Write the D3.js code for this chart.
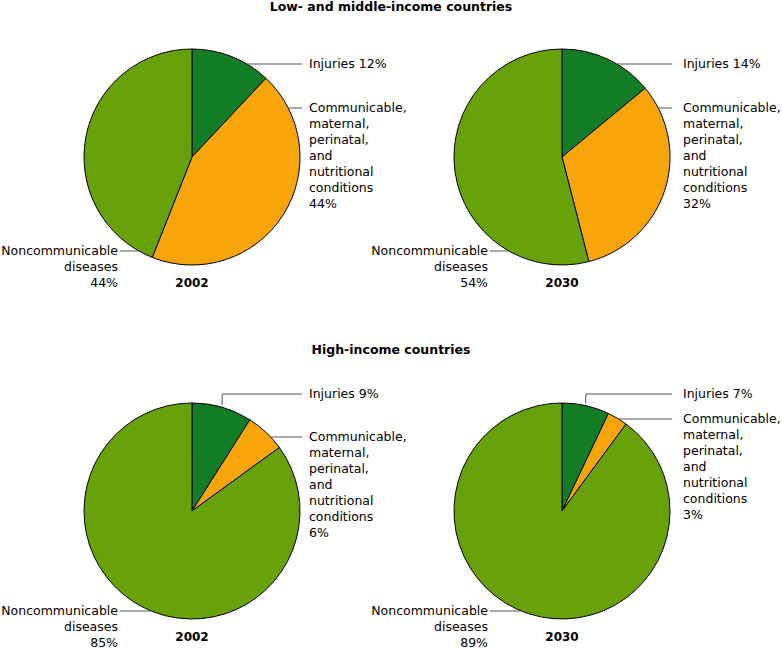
<!DOCTYPE html>
<html>
<head>
  <meta charset="utf-8" />
  <title>Burden of disease 2002 / 2030</title>
  <style>
    body { margin: 0; background: #fff; }
    text { font-family: "DejaVu Sans", Verdana, sans-serif; fill: #000; }
  </style>
</head>
<body>
  <svg id="chart" width="782" height="649"></svg>

  <script src="https://cdn.jsdelivr.net/npm/d3@7"></script>
  <script>

    // data
    var groups = ["Low- and middle-income countries", "High-income countries"]
    var years = ["2002", "2030"]
    var causes = ["Injuries", "Communicable", "Noncommunicable"]
    var lowMid2002 = [12, 44, 44]
    var lowMid2030 = [14, 32, 54]
    var high2002 = [9, 6, 85]
    var high2030 = [7, 3, 89]

    var injuryText = ["Injuries"]
    var commText = ["Communicable,", "maternal,", "perinatal,", "and", "nutritional", "conditions"]
    var ncdText = ["Noncommunicable", "diseases"]

    var colors = ["#137d26", "#f8a50c", "#68a20b"]

    // layout of the four pies
    var pies = [
      { values: lowMid2002, year: years[0], cx: 192, cy: 157, injY: 64, commY: 108, txt: 117, ncdY: 94 },
      { values: lowMid2030, year: years[1], cx: 562, cy: 157, injY: 64, commY: 108, txt: 121, ncdY: 94 },
      { values: high2002, year: years[0], cx: 192, cy: 511, injY: 394, commY: 437, txt: 117, ncdY: 100 },
      { values: high2030, year: years[1], cx: 562, cy: 511, injY: 394, commY: 419, txt: 121, ncdY: 100 }
    ]
    var titleY = [7, 350]

    var r = 108
    var lineH = 15.9
    var svg = d3.select('#chart')

    var color = d3.scaleOrdinal().domain(causes).range(colors)
    var pie = d3.pie().sort(null).value(function (d) { return d.v })
    var arc = d3.arc().innerRadius(0).outerRadius(r)

    svg.selectAll('text.title')
      .data(groups)
      .enter()
      .append('text')
      .attr('class', 'title')
      .attr('x', 391)
      .attr('y', function (d, i) { return titleY[i] })
      .attr('dy', '0.35em')
      .attr('text-anchor', 'middle')
      .style('font-weight', 'bold')
      .style('font-size', '12.5px')
      .text(function (d) { return d })

    // x on the arc at a given y (right or left side)
    function arcX(p, y, side) {
      var dy = y - p.cy
      return p.cx + side * Math.sqrt(Math.max(0, r * r - dy * dy))
    }

    function lines(g, arr, x, y, anchor) {
      var t = g.append('text')
        .attr('text-anchor', anchor)
        .style('font-size', '12.5px')
      arr.forEach(function (s, i) {
        t.append('tspan')
          .attr('x', x)
          .attr('y', y + i * lineH)
          .attr('dy', '0.35em')
          .text(s)
      })
    }

    pies.forEach(function (p) {
      var g = svg.append('g')
      var data = p.values.map(function (v, i) { return { k: causes[i], v: v } })
      var arcs = pie(data)

      g.append('g')
        .attr('transform', 'translate(' + p.cx + ',' + p.cy + ')')
        .selectAll('path')
        .data(arcs)
        .enter()
        .append('path')
        .attr('d', arc)
        .attr('fill', function (d) { return color(d.data.k) })
        .attr('stroke', '#000')
        .attr('stroke-width', 1)

      var lineEnd = p.cx + 110
      var tx = p.cx + p.txt
      var lead = g.append('g').attr('fill', 'none').attr('stroke', '#555').attr('stroke-width', 1)

      // injuries leader
      if (p.injY > p.cy - r) {
        lead.append('path').attr('d', 'M' + arcX(p, p.injY, 1) + ',' + p.injY + 'H' + lineEnd)
      } else {
        var a = (arcs[0].startAngle + arcs[0].endAngle) / 2
        var x0 = p.cx + r * Math.sin(a), y0 = p.cy - r * Math.cos(a)
        lead.append('path').attr('d', 'M' + x0 + ',' + (y0 - 2) + 'V' + p.injY + 'H' + lineEnd)
      }
      // communicable leader
      lead.append('path').attr('d', 'M' + arcX(p, p.commY, 1) + ',' + p.commY + 'H' + lineEnd)
      // noncommunicable leader
      var ny = p.cy + p.ncdY
      lead.append('path').attr('d', 'M' + (p.cx - 72) + ',' + ny + 'H' + arcX(p, ny, -1))

      lines(g, [injuryText[0] + ' ' + p.values[0] + '%'], tx, p.injY, 'start')
      lines(g, commText.concat([p.values[1] + '%']), tx, p.commY, 'start')
      lines(g, ncdText.concat([p.values[2] + '%']), p.cx - 74, ny, 'end')

      g.append('text')
        .attr('x', p.cx)
        .attr('y', p.cy + 126)
        .attr('dy', '0.35em')
        .attr('text-anchor', 'middle')
        .style('font-weight', 'bold')
        .style('font-size', '12px')
        .text(p.year)
    })

  </script>
</body>
</html>
